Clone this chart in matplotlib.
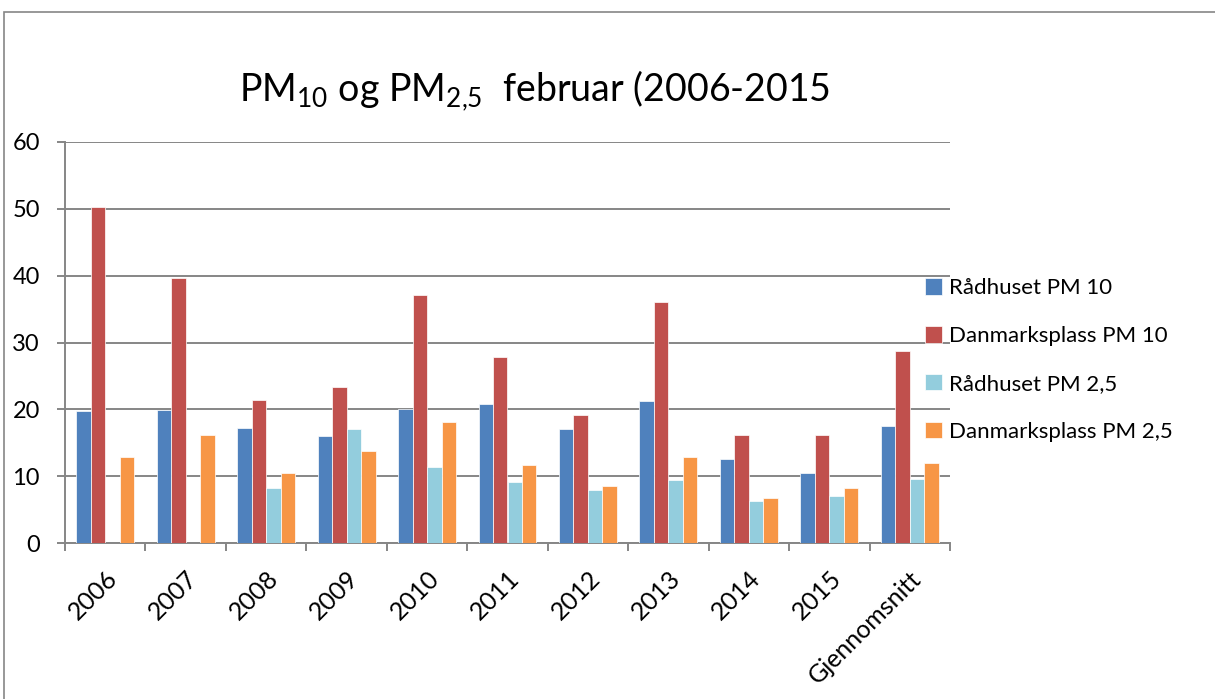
import numpy as np
import matplotlib
matplotlib.use("Agg")
import matplotlib.pyplot as plt
from matplotlib.patches import Rectangle

plt.rcParams["font.family"] = ["Lato", "DejaVu Sans"]
plt.rcParams["mathtext.fontset"] = "custom"
plt.rcParams["mathtext.rm"] = "Lato"
plt.rcParams["mathtext.it"] = "Lato:italic"

categories = ["2006", "2007", "2008", "2009", "2010", "2011", "2012",
              "2013", "2014", "2015", "Gjennomsnitt"]
radhuset_pm10 = [19.7, 19.9, 17.2, 16.0, 20.0, 20.8, 17.1, 21.3, 12.6, 10.4, 17.5]
danmark_pm10 = [50.3, 39.7, 21.4, 23.4, 37.1, 27.9, 19.2, 36.0, 16.2, 16.2, 28.7]
radhuset_pm25 = [np.nan, np.nan, 8.2, 17.1, 11.3, 9.2, 7.9, 9.5, 6.3, 7.1, 9.6]
danmark_pm25 = [12.9, 16.1, 10.4, 13.7, 18.1, 11.7, 8.5, 12.8, 6.8, 8.2, 11.9]

series = [
    ("Rådhuset PM 10", radhuset_pm10, "#4F81BD"),
    ("Danmarksplass PM 10", danmark_pm10, "#C0504D"),
    ("Rådhuset PM 2,5", radhuset_pm25, "#93CDDD"),
    ("Danmarksplass PM 2,5", danmark_pm25, "#F79646"),
]

fig = plt.figure(figsize=(12.15, 6.99), dpi=100)
ax = fig.add_axes([65 / 1215, 1 - 543 / 699, 885 / 1215, 401 / 699])

x = np.arange(len(categories))
w = 0.18
for i, (name, vals, col) in enumerate(series):
    ax.bar(x + (i - 1.5) * w, vals, width=w, color=col, edgecolor="white",
           linewidth=0.5, label=name, zorder=3)

ax.set_xlim(-0.5, len(categories) - 0.5)
ax.set_ylim(0, 60)
ax.set_yticks(range(0, 61, 10))
ax.yaxis.grid(True, color="#868686", linewidth=1.4, zorder=0)
ax.set_axisbelow(True)

gray = "#868686"
for s in ["top", "right"]:
    ax.spines[s].set_visible(False)
for s in ["left", "bottom"]:
    ax.spines[s].set_color(gray)
    ax.spines[s].set_linewidth(1.4)

ax.tick_params(axis="y", labelsize=17, colors=gray, labelcolor="black",
               length=6, width=1.4, pad=12)
ax.set_xticks(x)
ax.set_xticklabels(categories, rotation=45, ha="right", rotation_mode="anchor",
                   fontsize=18)
ax.tick_params(axis="x", which="major", length=0, pad=17)
ax.set_xticks(np.arange(-0.5, len(categories), 1), minor=True)
ax.tick_params(axis="x", which="minor", length=6, width=1.4, colors=gray)

fig.text(0.44, 0.87, r"PM$_{10}$ og PM$_{2{,}5}$  februar (2006-2015",
         fontsize=27, ha="center", va="center")

fig.legend(loc="center left", bbox_to_anchor=(905 / 1215, 1 - 360 / 699),
           frameon=False, fontsize=16, handlelength=0.75, handleheight=0.75,
           handletextpad=0.35, labelspacing=1.25)

fig.patches.append(Rectangle((4 / 1215, -0.05), 1.1, 1 - 12 / 699 + 0.05,
                             transform=fig.transFigure, fill=False,
                             edgecolor=gray, linewidth=1.2))

fig.savefig("out.png", dpi=100)
